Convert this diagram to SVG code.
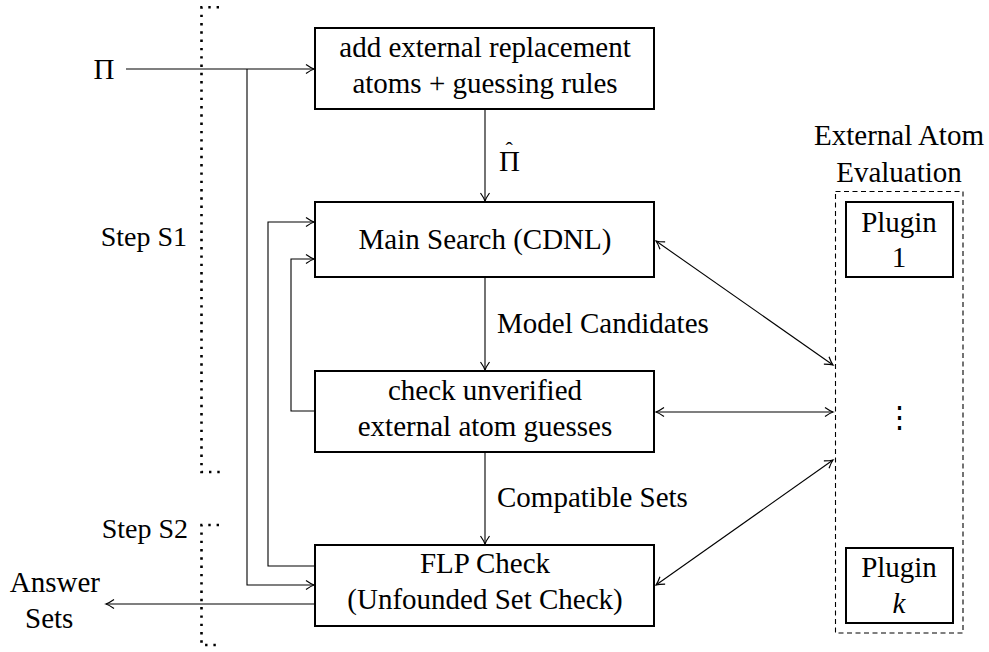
<svg xmlns="http://www.w3.org/2000/svg" width="989" height="652" viewBox="0 0 989 652">
<defs>
<marker id="ah" viewBox="-10 -6 12 12" refX="0" refY="0" markerWidth="12" markerHeight="12" markerUnits="userSpaceOnUse" orient="auto-start-reverse">
<path d="M-8,-4.5 Q-3,-1 0,0 Q-3,1 -8,4.5" fill="none" stroke="#000" stroke-width="1.2"/>
</marker>
<style>
.c{text-anchor:middle}
.box{fill:#fff;stroke:#000;stroke-width:2}
.arr{fill:none;stroke:#000;stroke-width:1.1;marker-end:url(#ah)}
.dbl{fill:none;stroke:#000;stroke-width:1.1;marker-end:url(#ah);marker-start:url(#ah)}
.dot{fill:none;stroke:#000;stroke-width:2.6;stroke-dasharray:2.4 5.9}
.dash{fill:none;stroke:#000;stroke-width:1.1;stroke-dasharray:5 3.5}
</style>
</defs>
<rect width="989" height="652" fill="#fff"/>

<g id="brackets">
<path class="dot" d="M219,7.3 H201.5 V472 H220"/>
<path class="dot" d="M219,525 H201.5 V645 H220"/>
</g>

<g id="connectors">
<path class="arr" d="M126,69 H314"/>
<path class="arr" d="M247,69 V585 H314"/>
<path class="arr" d="M315,566 H268 V222 H314"/>
<path class="arr" d="M315,411 H291 V259 H314"/>
<path class="arr" d="M485,109 V201"/>
<path class="arr" d="M485,277 V370"/>
<path class="arr" d="M485,452 V544"/>
<path class="arr" d="M315,604 H106"/>
<path class="dbl" d="M656,241 L833,365"/>
<path class="dbl" d="M656,412 L833,412"/>
<path class="dbl" d="M833,460 L656,585"/>
</g>

<g id="labels">
<text class="c" x="104" y="79" font-family="Liberation Serif" font-size="29">Π</text>
<text x="499" y="171" font-family="Liberation Serif" font-size="29">Π<tspan dx="-14.5" dy="-14" font-size="22">ˆ</tspan></text>
<text x="497" y="333" font-family="Liberation Serif" font-size="29">Model Candidates</text>
<text x="497" y="507" font-family="Liberation Serif" font-size="29">Compatible Sets</text>
<text x="187" y="246" text-anchor="end" font-family="Liberation Serif" font-size="28">Step S1</text>
<text x="188" y="538" text-anchor="end" font-family="Liberation Serif" font-size="28">Step S2</text>
<text x="100" y="592" text-anchor="end" font-family="Liberation Serif" font-size="29">Answer</text>
<text x="25" y="628" font-family="Liberation Serif" font-size="29">Sets</text>
</g>

<g id="n-add">
<rect class="box" x="315" y="28" width="339" height="81"/>
<text class="c" x="485" y="57" font-family="Liberation Serif" font-size="29">add external replacement</text>
<text class="c" x="485" y="93" font-family="Liberation Serif" font-size="29">atoms + guessing rules</text>
</g>

<g id="n-main">
<rect class="box" x="315" y="202" width="339" height="75"/>
<text class="c" x="485" y="249" font-family="Liberation Serif" font-size="29">Main Search (CDNL)</text>
</g>

<g id="n-check">
<rect class="box" x="315" y="371" width="339" height="81"/>
<text class="c" x="485" y="400" font-family="Liberation Serif" font-size="29">check unverified</text>
<text class="c" x="485" y="436" font-family="Liberation Serif" font-size="29">external atom guesses</text>
</g>

<g id="n-flp">
<rect class="box" x="315" y="545" width="339" height="81"/>
<text class="c" x="485" y="573" font-family="Liberation Serif" font-size="29">FLP Check</text>
<text class="c" x="485" y="609" font-family="Liberation Serif" font-size="29">(Unfounded Set Check)</text>
</g>

<g id="n-ext">
<text class="c" x="899" y="145" font-family="Liberation Serif" font-size="29">External Atom</text>
<text class="c" x="899" y="182" font-family="Liberation Serif" font-size="29">Evaluation</text>
<rect class="dash" x="835.5" y="191.5" width="127.5" height="441.5"/>
<text class="c" x="899" y="427" font-family="Liberation Serif" font-size="29">⋮</text>
</g>

<g id="n-plugin1">
<rect class="box" x="846" y="202" width="107" height="75"/>
<text class="c" x="899" y="232" font-family="Liberation Serif" font-size="29">Plugin</text>
<text class="c" x="899" y="267" font-family="Liberation Serif" font-size="29">1</text>
</g>

<g id="n-plugink">
<rect class="box" x="846" y="548" width="107" height="75"/>
<text class="c" x="899" y="577" font-family="Liberation Serif" font-size="29">Plugin</text>
<text class="c" x="899" y="613" font-family="Liberation Serif" font-size="29" font-style="italic">k</text>
</g>
</svg>
